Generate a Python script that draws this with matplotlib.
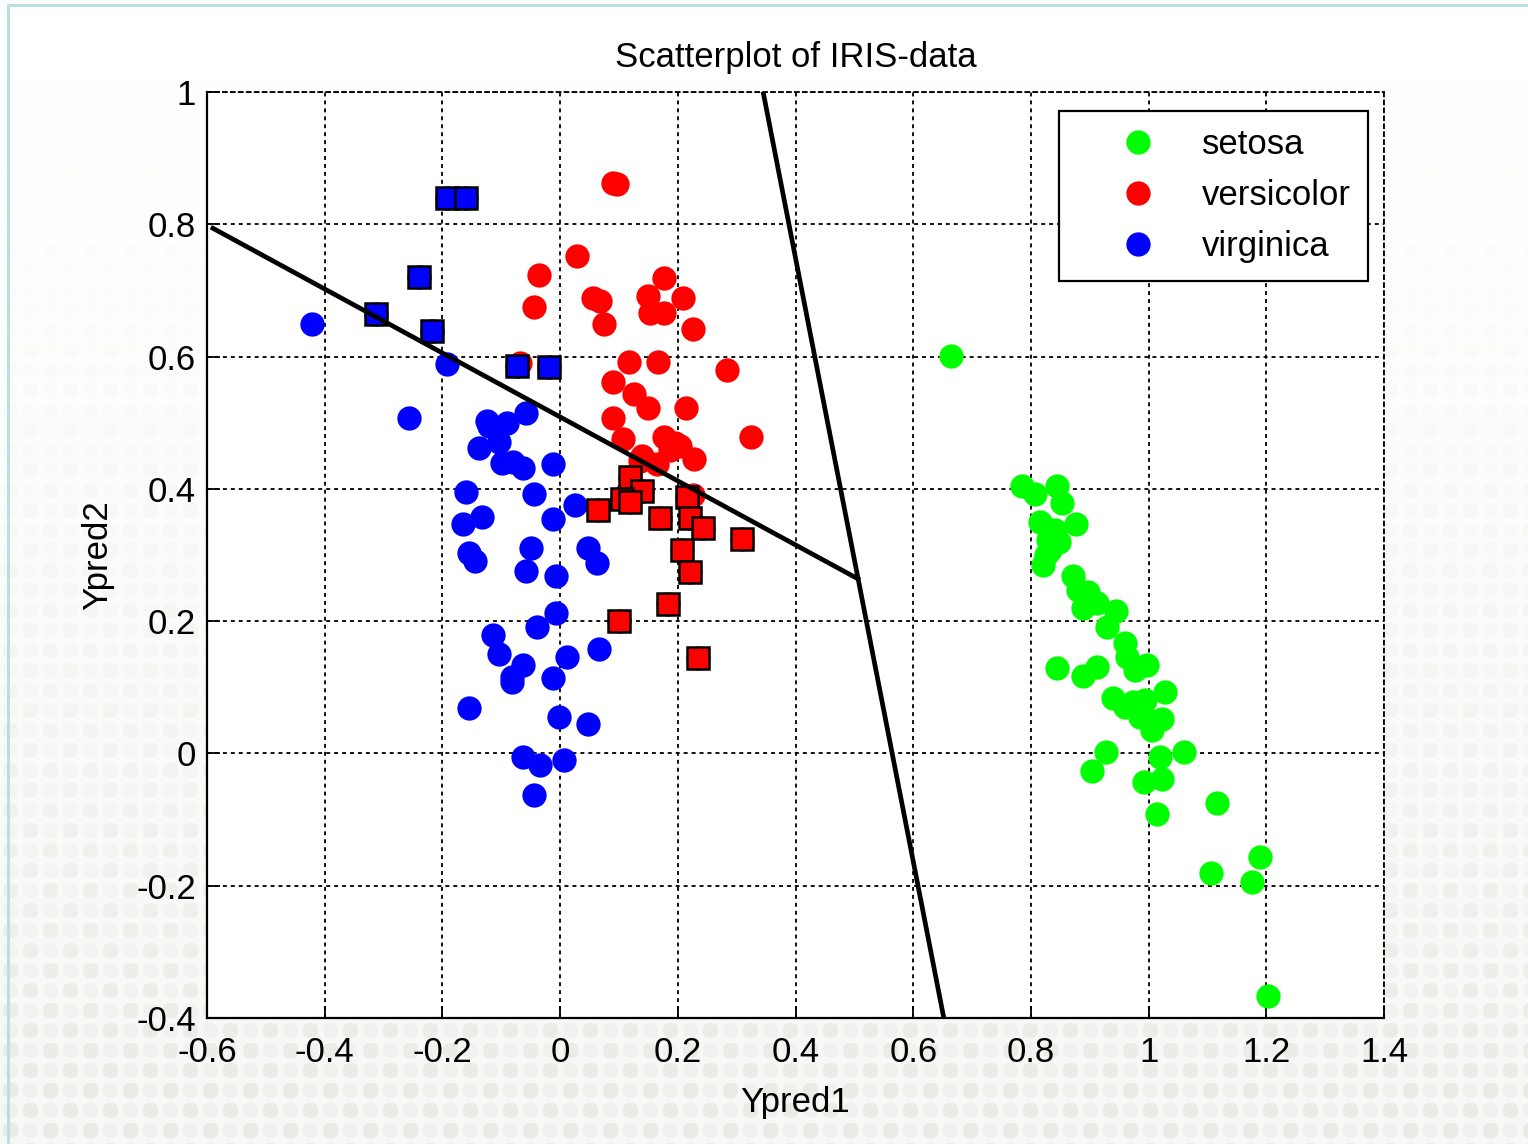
import matplotlib
matplotlib.use("Agg")
import matplotlib.pyplot as plt
import numpy as np

plt.rcParams['font.family'] = ['Liberation Sans', 'DejaVu Sans']
plt.rcParams['axes.unicode_minus'] = False

# ---- data ----
setosa_x = [0.664, 0.785, 0.807, 0.844, 0.853, 0.815, 0.841, 0.877, 0.829, 0.832,
            0.821, 0.872, 0.880, 0.897, 0.889, 0.912, 0.945, 0.929, 0.960, 0.963,
            0.977, 0.997, 0.844, 0.889, 0.912, 0.940, 0.974, 0.994, 1.023, 1.028,
            0.985, 1.006, 0.928, 0.904, 1.019, 1.060, 0.992, 1.023, 1.014, 1.116,
            1.106, 1.189, 1.176, 1.203, 0.835, 0.848, 0.826, 0.990, 0.960, 0.900]
setosa_y = [0.601, 0.404, 0.392, 0.404, 0.379, 0.350, 0.338, 0.347, 0.323, 0.308,
            0.285, 0.268, 0.247, 0.244, 0.220, 0.227, 0.215, 0.191, 0.167, 0.146,
            0.126, 0.134, 0.129, 0.117, 0.131, 0.084, 0.078, 0.081, 0.052, 0.093,
            0.055, 0.035, 0.002, -0.027, -0.005, 0.002, -0.043, -0.039, -0.092, -0.075,
            -0.181, -0.157, -0.194, -0.367, 0.330, 0.320, 0.300, 0.060, 0.070, 0.230]

versicolor_x = [0.090, 0.097, 0.029, -0.036, -0.044, 0.056, 0.068, 0.075, 0.177, 0.149,
                0.209, 0.153, 0.177, 0.226, 0.117, 0.166, 0.284, 0.090, 0.126, 0.149,
                0.214, 0.090, 0.324, 0.107, 0.177, 0.204, 0.187, 0.228, 0.136, 0.165,
                -0.068, 0.195, 0.140, 0.112, 0.225,
                0.119, 0.139, 0.105, 0.119, 0.216, 0.064, 0.170, 0.221, 0.243, 0.309,
                0.207, 0.221, 0.183, 0.100, 0.234]
versicolor_y = [0.862, 0.861, 0.752, 0.723, 0.675, 0.688, 0.684, 0.649, 0.719, 0.691,
                0.688, 0.666, 0.666, 0.642, 0.592, 0.592, 0.580, 0.562, 0.543, 0.522,
                0.522, 0.507, 0.478, 0.475, 0.478, 0.465, 0.459, 0.445, 0.442, 0.437,
                0.590, 0.470, 0.450, 0.392, 0.390,
                0.418, 0.397, 0.385, 0.380, 0.388, 0.368, 0.356, 0.356, 0.341, 0.324,
                0.308, 0.274, 0.226, 0.200, 0.144]

virginica_x = [-0.422, -0.192, -0.257, -0.124, -0.090, -0.058, -0.138, -0.104, -0.099, -0.080,
               -0.063, -0.012, -0.160, -0.044, 0.025, -0.133, -0.165, -0.012, -0.049, -0.155,
               -0.145, -0.058, -0.007, 0.047, 0.063, -0.007, -0.039, -0.114, -0.104, -0.063,
               -0.082, -0.082, 0.012, -0.012, 0.066, -0.155, -0.002, 0.047, -0.063, -0.034,
               0.007, -0.044, -0.120,
               -0.192, -0.160, -0.240, -0.313, -0.218, -0.073, -0.019]
virginica_y = [0.649, 0.589, 0.507, 0.503, 0.499, 0.515, 0.462, 0.471, 0.439, 0.441,
               0.431, 0.438, 0.395, 0.392, 0.376, 0.357, 0.347, 0.354, 0.311, 0.303,
               0.291, 0.276, 0.268, 0.311, 0.288, 0.212, 0.191, 0.179, 0.150, 0.134,
               0.116, 0.108, 0.146, 0.114, 0.158, 0.069, 0.055, 0.044, -0.005, -0.018,
               -0.010, -0.063, 0.495,
               0.840, 0.840, 0.721, 0.664, 0.639, 0.585, 0.584]

# misclassified points (drawn as squares)
miss_virginica_x = [-0.192, -0.160, -0.240, -0.313, -0.218, -0.073, -0.019]
miss_virginica_y = [0.840, 0.840, 0.721, 0.664, 0.639, 0.585, 0.584]
miss_versicolor_x = [0.119, 0.139, 0.105, 0.119, 0.216, 0.064, 0.170, 0.221, 0.243, 0.309,
                     0.207, 0.221, 0.183, 0.100, 0.234]
miss_versicolor_y = [0.418, 0.397, 0.385, 0.380, 0.388, 0.368, 0.356, 0.356, 0.341, 0.324,
                     0.308, 0.274, 0.226, 0.200, 0.144]

# decision boundaries
boundary1_x = [-0.590, 0.506]
boundary1_y = [0.794, 0.264]
boundary2_x = [0.345, 0.652]
boundary2_y = [1.0, -0.4]

xticks = [-0.6, -0.4, -0.2, 0, 0.2, 0.4, 0.6, 0.8, 1, 1.2, 1.4]
xticklabels = ['-0.6', '-0.4', '-0.2', '0', '0.2', '0.4', '0.6', '0.8', '1', '1.2', '1.4']
yticks = [-0.4, -0.2, 0, 0.2, 0.4, 0.6, 0.8, 1]
yticklabels = ['-0.4', '-0.2', '0', '0.2', '0.4', '0.6', '0.8', '1']

# ---- figure ----
W, H = 1528, 1144
fig = plt.figure(figsize=(W / 100, H / 100), dpi=100)

# textured slide background (light dot pattern, fading toward the top)
yy, xx = np.mgrid[0:H, 0:W]
cell = 20
cx = (xx % cell) - cell / 2
cy = (yy % cell) - cell / 2
dot = (cx ** 2 + cy ** 2) < 8 ** 2
checker = ((xx // cell + yy // cell) % 2) == 0
strength = np.clip((yy - 80) / 1000.0, 0, 1) ** 1.2
shade = np.full((H, W), 0.03)
shade[dot & checker] = 0.075
shade[dot & ~checker] = 0.055
tint = np.array([1.0, 1.0, 1.3])
bg = 1 - (strength * shade)[..., None] * tint[None, None, :]
bg = np.clip(bg, 0, 1)
border = np.array([0.72, 0.88, 0.88])
bg[4:7, 8:] = border
bg[4:, 7:10] = border
fig.figimage(bg, 0, 0, zorder=-1)

ax = fig.add_axes([207 / W, 1 - 1018 / H, (1384 - 207) / W, (1018 - 92) / H])
ax.set_zorder(2)
ax.set_facecolor('white')

ms = 17.5
ax.plot(setosa_x, setosa_y, 'o', color='#00ff00', ms=ms, mec='none', label='setosa', zorder=3)
ax.plot(versicolor_x, versicolor_y, 'o', color='#ff0000', ms=ms, mec='none', label='versicolor', zorder=3)
ax.plot(virginica_x, virginica_y, 'o', color='#0000ff', ms=ms, mec='none', label='virginica', zorder=3)

ax.plot(miss_virginica_x, miss_virginica_y, 's', color='#0000ff', ms=15.5, mec='black', mew=1.8, zorder=4)
ax.plot(miss_versicolor_x, miss_versicolor_y, 's', color='#ff0000', ms=15.5, mec='black', mew=1.8, zorder=4)

ax.plot(boundary1_x, boundary1_y, color='black', lw=3.4, zorder=5)
ax.plot(boundary2_x, boundary2_y, color='black', lw=3.4, zorder=5)

ax.set_xlim(-0.6, 1.4)
ax.set_ylim(-0.4, 1)
ax.set_xticks(xticks)
ax.set_xticklabels(xticklabels)
ax.set_yticks(yticks)
ax.set_yticklabels(yticklabels)

fs = 25
ax.tick_params(direction='in', length=9, width=1.3, labelsize=fs, top=False, right=False)
ax.tick_params(axis='x', pad=13)
ax.tick_params(axis='y', pad=8)
ax.grid(True, color='black', linestyle=(0, (2.2, 2.2)), linewidth=1.3)
ax.set_axisbelow(True)

for side in ['left', 'bottom']:
    ax.spines[side].set_linewidth(1.6)
for side in ['top', 'right']:
    ax.spines[side].set_linewidth(1.3)
    ax.spines[side].set_linestyle((0, (2.2, 2.2)))

ax.set_title('Scatterplot of IRIS-data', fontsize=fs, pad=18)
ax.set_xlabel('Ypred1', fontsize=fs, labelpad=12)
ax.set_ylabel('Ypred2', fontsize=fs, labelpad=16)

leg = ax.legend(loc='upper right', bbox_to_anchor=((1368 - 207) / 1177, 1 - (111 - 92) / 926),
                borderaxespad=0, fontsize=fs, numpoints=1, handlelength=3.55, handletextpad=0.05,
                borderpad=0.5, labelspacing=0.52, fancybox=False, framealpha=1)
leg.get_frame().set_edgecolor('black')
leg.get_frame().set_linewidth(1.6)

fig.savefig('out.png', dpi=100)
